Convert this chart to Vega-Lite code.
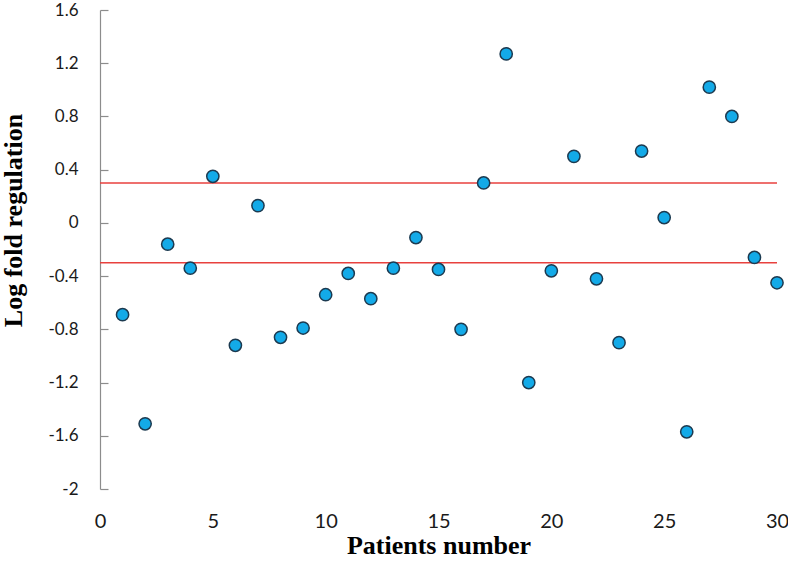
{
  "$schema": "https://vega.github.io/schema/vega-lite/v6.json",
  "width": 677,
  "height": 479,
  "autosize": {"type": "none"},
  "padding": {"left": 100, "top": 10, "right": 11, "bottom": 76},
  "background": "white",
  "config": {"view": {"stroke": null}},
  "datasets": {
    "points": [
      {"patient": 1, "value": -0.69},
      {"patient": 2, "value": -1.51},
      {"patient": 3, "value": -0.16},
      {"patient": 4, "value": -0.34},
      {"patient": 5, "value": 0.35},
      {"patient": 6, "value": -0.92},
      {"patient": 7, "value": 0.13},
      {"patient": 8, "value": -0.86},
      {"patient": 9, "value": -0.79},
      {"patient": 10, "value": -0.54},
      {"patient": 11, "value": -0.38},
      {"patient": 12, "value": -0.57},
      {"patient": 13, "value": -0.34},
      {"patient": 14, "value": -0.11},
      {"patient": 15, "value": -0.35},
      {"patient": 16, "value": -0.8},
      {"patient": 17, "value": 0.3},
      {"patient": 18, "value": 1.27},
      {"patient": 19, "value": -1.2},
      {"patient": 20, "value": -0.36},
      {"patient": 21, "value": 0.5},
      {"patient": 22, "value": -0.42},
      {"patient": 23, "value": -0.9},
      {"patient": 24, "value": 0.54},
      {"patient": 25, "value": 0.04},
      {"patient": 26, "value": -1.57},
      {"patient": 27, "value": 1.02},
      {"patient": 28, "value": 0.8},
      {"patient": 29, "value": -0.26},
      {"patient": 30, "value": -0.45}
    ],
    "thresholds": [{"t": 0.3}, {"t": -0.3}]
  },
  "layer": [
    {
      "data": {"name": "thresholds"},
      "mark": {"type": "rule", "color": "#E8413E", "strokeWidth": 1.5},
      "encoding": {
        "y": {"field": "t", "type": "quantitative", "scale": {"domain": [-2, 1.6], "nice": false}}
      }
    },
    {
      "data": {"name": "points"},
      "mark": {"type": "point", "shape": "circle", "filled": true, "size": 150, "fill": "#13AAE8", "stroke": "#1C3A50", "strokeWidth": 1.5, "opacity": 1},
      "encoding": {
        "x": {
          "field": "patient",
          "type": "quantitative",
          "scale": {"domain": [0, 30], "nice": false, "zero": false},
          "axis": {
            "title": "Patients number",
            "values": [0, 5, 10, 15, 20, 25, 30],
            "grid": false,
            "domain": false,
            "ticks": false,
            "labelPadding": 22,
            "labelFont": "Lato",
            "labelFontSize": 20,
            "labelColor": "#1a1a1a",
            "labelFlush": false,
            "labelOverlap": false,
            "titleFont": "Liberation Serif",
            "titleFontWeight": "bold",
            "titleFontSize": 26,
            "titleColor": "#000000",
            "titleBaseline": "alphabetic",
            "titleY": 64,
            "titleX": 338.5
          }
        },
        "y": {
          "field": "value",
          "type": "quantitative",
          "scale": {"domain": [-2, 1.6], "nice": false, "zero": false},
          "axis": {
            "title": "Log fold regulation",
            "values": [-2, -1.6, -1.2, -0.8, -0.4, 0, 0.4, 0.8, 1.2, 1.6],
            "labelExpr": "toString(datum.value)",
            "grid": false,
            "domainColor": "#8c8c8c",
            "domainWidth": 1.2,
            "tickColor": "#8c8c8c",
            "tickWidth": 1.2,
            "tickSize": -8,
            "labelPadding": 30,
            "labelFont": "Lato",
            "labelFontSize": 17,
            "labelColor": "#1a1a1a",
            "labelFlush": false,
            "labelOverlap": false,
            "titleFont": "Liberation Serif",
            "titleFontWeight": "bold",
            "titleFontSize": 26,
            "titleColor": "#000000",
            "titleAngle": 270,
            "titleBaseline": "alphabetic",
            "titleAlign": "center",
            "titleX": -79,
            "titleY": 210
          }
        }
      }
    }
  ]
}
